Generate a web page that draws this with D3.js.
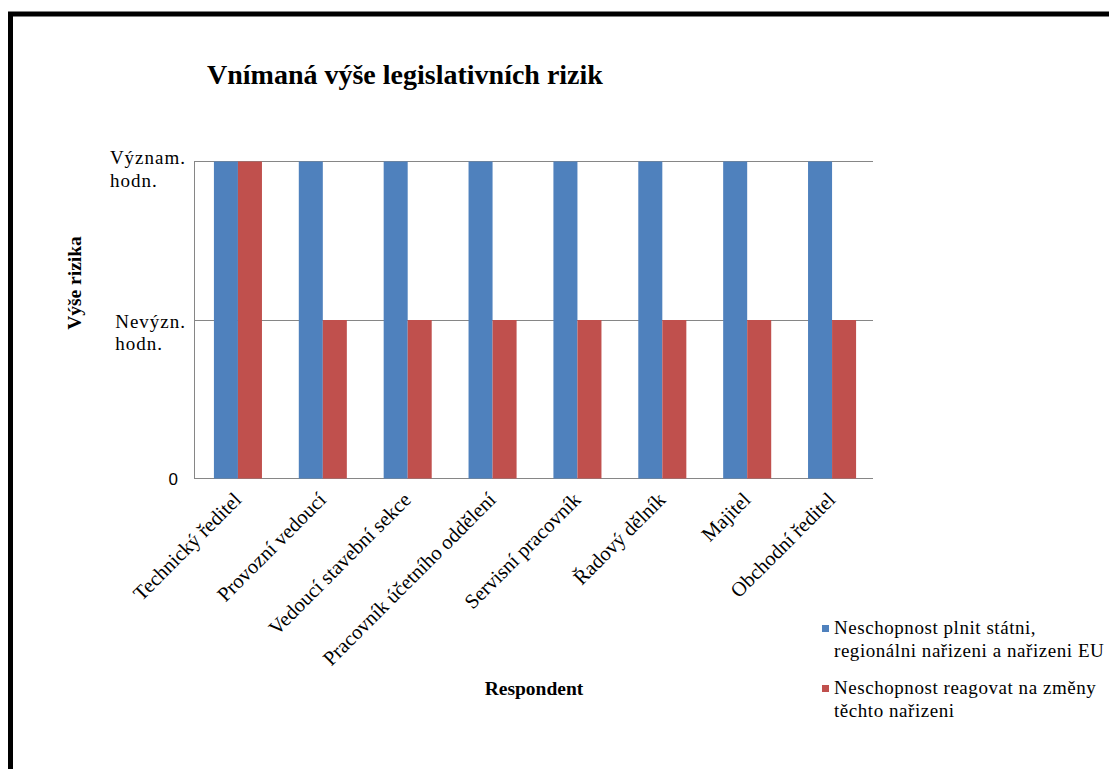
<!DOCTYPE html>
<html>
<head>
<meta charset="utf-8">
<script src="https://cdn.jsdelivr.net/npm/d3@7"></script>
<style>
  html, body { margin: 0; padding: 0; background: #fff; }
  svg { display: block; }
  text { font-family: "Liberation Serif", "Times New Roman", serif; fill: #000; }
</style>
</head>
<body>
<svg id="chart" width="1109" height="769"></svg>
<script>
// Respondents (x categories)
const categories = [
  "Technický ředitel",
  "Provozní vedoucí",
  "Vedoucí stavební sekce",
  "Pracovník účetního oddělení",
  "Servisní pracovník",
  "Řadový dělník",
  "Majitel",
  "Obchodní ředitel"
];

// Series names (legend)
const seriesNames = [
  "Neschopnost plnit státni, regionálni nařizeni a nařizeni EU",
  "Neschopnost reagovat na změny těchto nařizeni"
];

// Risk level: 2 = significant, 1 = not significant
const seriesPlnit    = [2, 2, 2, 2, 2, 2, 2, 2];
const seriesReagovat = [2, 1, 1, 1, 1, 1, 1, 1];

// Y tick values and their labels
const yTickValues = [0, 1, 2];
const yTickLabels = [["0"], ["Nevýzn.", "hodn."], ["Význam.", "hodn."]];

const legendLines = [
  ["Neschopnost plnit státni,", "regionálni nařizeni a nařizeni EU"],
  ["Neschopnost reagovat na změny", "těchto nařizeni"]
];

const colors = ["#4F81BD", "#C0504D"];

const svg = d3.select("#chart");

// outer frame
svg.append("rect")
  .attr("x", 10.5).attr("y", 14)
  .attr("width", 1200).attr("height", 900)
  .attr("fill", "none").attr("stroke", "#000").attr("stroke-width", 5);

const plot = { left: 194, right: 873, top: 161, bottom: 478 };

const x0 = d3.scaleBand().domain(categories).range([plot.left, plot.right]).padding(0);
const bw = x0.bandwidth();
const groupW = bw * 0.566;
const x1 = d3.scaleBand().domain([0, 1])
  .range([(bw - groupW) / 2 + 1.5, (bw + groupW) / 2 + 1.5]).padding(0);
const y = d3.scaleLinear().domain([0, 2]).range([plot.bottom, plot.top]);

// gridlines
const g = svg.append("g");
g.selectAll("line.grid").data(yTickValues).join("line")
  .attr("x1", plot.left).attr("x2", plot.right)
  .attr("y1", d => Math.round(y(d)) + 0.5).attr("y2", d => Math.round(y(d)) + 0.5)
  .attr("stroke", "#868686").attr("stroke-width", 1);
// left axis line
g.append("line")
  .attr("x1", plot.left + 0.5).attr("x2", plot.left + 0.5)
  .attr("y1", plot.top).attr("y2", plot.bottom)
  .attr("stroke", "#868686");

// bars
const rows = categories.map((c, i) => ({ c, vals: [seriesPlnit[i], seriesReagovat[i]] }));
const grp = svg.append("g").selectAll("g").data(rows).join("g")
  .attr("transform", d => `translate(${x0(d.c)},0)`);
grp.selectAll("rect").data(d => d.vals.map((v, k) => ({ v, k }))).join("rect")
  .attr("x", d => x1(d.k))
  .attr("width", x1.bandwidth())
  .attr("y", d => y(d.v) + 0.5)
  .attr("height", d => y(0) - y(d.v))
  .attr("fill", d => colors[d.k]);

// y tick labels (two-line labels: right-aligned block, left-aligned lines)
yTickValues.forEach((v, i) => {
  const lines = yTickLabels[i];
  const yy = y(v);
  if (lines.length === 1) {
    svg.append("text")
      .attr("x", 178).attr("y", yy + 7)
      .attr("text-anchor", "end")
      .style("font-family", "'Liberation Sans', Arial, sans-serif")
      .style("font-size", "17px")
      .text(lines[0]);
  } else {
    const base = yy + (i === yTickValues.length - 1 ? 3 : 8);
    const t = svg.append("text")
      .attr("y", base)
      .style("font-size", "19px")
      .style("letter-spacing", "1px");
    const first = t.append("tspan").attr("x", 0).text(lines[0]);
    const w = first.node().getComputedTextLength();
    first.attr("x", 186 - w);
    t.append("tspan").attr("x", 186 - w).attr("dy", 22.5).text(lines[1]);
  }
});

// x tick labels
svg.append("g").selectAll("text").data(categories).join("text")
  .attr("text-anchor", "end")
  .attr("transform", d => `translate(${x0(d) + bw / 2 + 6},501) rotate(-45)`)
  .style("font-size", "20.5px")
  .text(d => d);

// title
svg.append("text")
  .attr("x", 207).attr("y", 84)
  .style("font-size", "28px").style("font-weight", "bold")
  .text("Vnímaná výše legislativních rizik");

// axis titles
svg.append("text")
  .attr("transform", "translate(81,283) rotate(-90)")
  .attr("text-anchor", "middle")
  .style("font-size", "19.5px").style("font-weight", "bold")
  .text("Výše rizika");

svg.append("text")
  .attr("x", 534).attr("y", 695)
  .attr("text-anchor", "middle")
  .style("font-size", "19.5px").style("font-weight", "bold")
  .text("Respondent");

// legend
const legendTop = [634, 694];
const lg = svg.append("g");
seriesNames.forEach((name, i) => {
  const item = lg.append("g").attr("class", "legend-item").attr("data-name", name);
  item.append("rect")
    .attr("x", 822).attr("y", legendTop[i] - 9)
    .attr("width", 7).attr("height", 7)
    .attr("fill", colors[i]);
  const t = item.append("text")
    .attr("y", legendTop[i])
    .style("font-size", "19px")
    .style("letter-spacing", "0.55px");
  legendLines[i].forEach((ln, j) => {
    t.append("tspan").attr("x", 834).attr("dy", j === 0 ? 0 : 23).text(ln);
  });
});
</script>
</body>
</html>
